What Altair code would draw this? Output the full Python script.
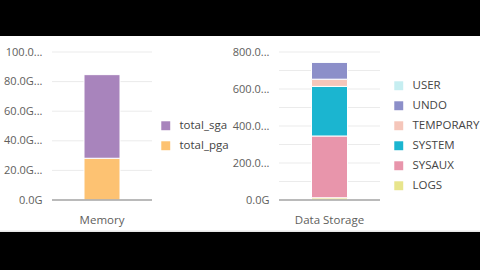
import altair as alt
import pandas as pd

# ---- data ----
mem_category = "Memory"
mem_series = ["total_pga", "total_sga"]
mem_values = [28.2, 56.5]
mem_legend_order = ["total_sga", "total_pga"]
mem_colors = ["#A884BC", "#FDC272"]
mem_ticks = [0, 20, 40, 60, 80, 100]
mem_tick_labels = ["0.0G", "20.0G...", "40.0G...", "60.0G...", "80.0G...", "100.0..."]

sto_category = "Data Storage"
sto_series = ["LOGS", "SYSAUX", "SYSTEM", "TEMPORARY", "UNDO", "USER"]
sto_values = [12, 334, 268, 39, 92, 1]
sto_legend_order = ["USER", "UNDO", "TEMPORARY", "SYSTEM", "SYSAUX", "LOGS"]
sto_colors = ["#C6EEF1", "#8C8FC9", "#F5C6BA", "#1BB5D0", "#E895AB", "#E8E58C"]
sto_ticks = [0, 100, 200, 300, 400, 500, 600, 700, 800]
sto_tick_labels = ["0.0G", "", "200.0...", "", "400.0...", "", "600.0...", "", "800.0..."]

FONT = "Open Sans"
LABEL_COLOR = "#605E5C"
W, H = 428, 148


def label_expr(ticks, labels):
    expr = "''"
    for t, l in reversed(list(zip(ticks, labels))):
        expr = f"datum.value == {t} ? '{l}' : ({expr})"
    return expr


def panel(category, series, values, legend_order, colors, ticks, tick_labels,
          ymax, x0, x1, legend_x, legend_y):
    df = pd.DataFrame({
        "cat": [category] * len(series),
        "series": series,
        "value": values,
        "order": list(range(len(series))),
    })
    yscale = alt.Scale(domain=[0, ymax], nice=False)
    yaxis = alt.Axis(values=ticks, labelExpr=label_expr(ticks, tick_labels), orient="left",
                     offset=-x0, ticks=False, domain=False, grid=False, labelPadding=10,
                     labelFontSize=11, labelColor=LABEL_COLOR, labelFont=FONT)
    xaxis = alt.Axis(orient="bottom", labelAngle=0, ticks=False, domain=False, grid=False,
                     labelPadding=14, labelFontSize=11.5, labelColor=LABEL_COLOR,
                     labelFont=FONT)
    xscale = alt.Scale(range=[x0, x1])
    grid = alt.Chart(pd.DataFrame({"tick": ticks})).mark_rule(
        color="#EBEBEB", strokeWidth=1).encode(
        y=alt.Y("tick:Q", scale=yscale, axis=yaxis, title=None),
        x=alt.value(x0), x2=alt.value(x1))
    bars = alt.Chart(df).mark_bar(size=36, stroke="white", strokeWidth=1).encode(
        x=alt.X("cat:N", title=None, scale=xscale, axis=xaxis),
        y=alt.Y("value:Q", title=None, stack="zero", scale=yscale, axis=yaxis),
        color=alt.Color("series:N", scale=alt.Scale(domain=legend_order, range=colors),
                        legend=alt.Legend(title=None, orient="none", legendX=legend_x,
                                          legendY=legend_y, symbolType="square",
                                          symbolSize=80, symbolStrokeWidth=0,
                                          labelFontSize=11.5, labelFont=FONT,
                                          labelColor="#444444", labelOffset=8,
                                          rowPadding=7, labelLimit=120)),
        order=alt.Order("order:Q"),
    )
    base = alt.Chart(pd.DataFrame({"tick": [0]})).mark_rule(
        color="#A6A6A6", strokeWidth=1.5).encode(
        y=alt.Y("tick:Q", scale=yscale, axis=yaxis, title=None),
        x=alt.value(x0), x2=alt.value(x1))
    return alt.layer(grid, bars, base)


one = pd.DataFrame({"a": [0]})
# decorative frame: black bands above and below (page chrome), spanning the full width
top_band = alt.Chart(one).mark_rect(color="black").encode(
    x=alt.value(-120), x2=alt.value(W + 120), y=alt.value(-52), y2=alt.value(-16))
bottom_band = alt.Chart(one).mark_rect(color="black").encode(
    x=alt.value(-120), x2=alt.value(W + 120), y=alt.value(180), y2=alt.value(218))
edge = alt.Chart(one).mark_rect(color="#E6E6E6").encode(
    x=alt.value(-120), x2=alt.value(W + 120), y=alt.value(178.5), y2=alt.value(180))

left = panel(mem_category, mem_series, mem_values, mem_legend_order, mem_colors,
             mem_ticks, mem_tick_labels, 100, 0, 100, 108, 68)
right = panel(sto_category, sto_series, sto_values, sto_legend_order, sto_colors,
              sto_ticks, sto_tick_labels, 800, 227, 328, 341, 28)

chart = alt.layer(edge, top_band, bottom_band, left, right).resolve_scale(
    x="independent", y="independent", color="independent").resolve_axis(
    x="independent", y="independent").resolve_legend(color="independent").properties(
    width=W, height=H,
    autosize=alt.AutoSizeParams(type="none"),
    padding={"left": 52, "top": 52, "right": 0, "bottom": 70},
    background="white").configure_view(stroke=None)

chart.save("out.html", embed_options={"renderer": "svg", "actions": False})
